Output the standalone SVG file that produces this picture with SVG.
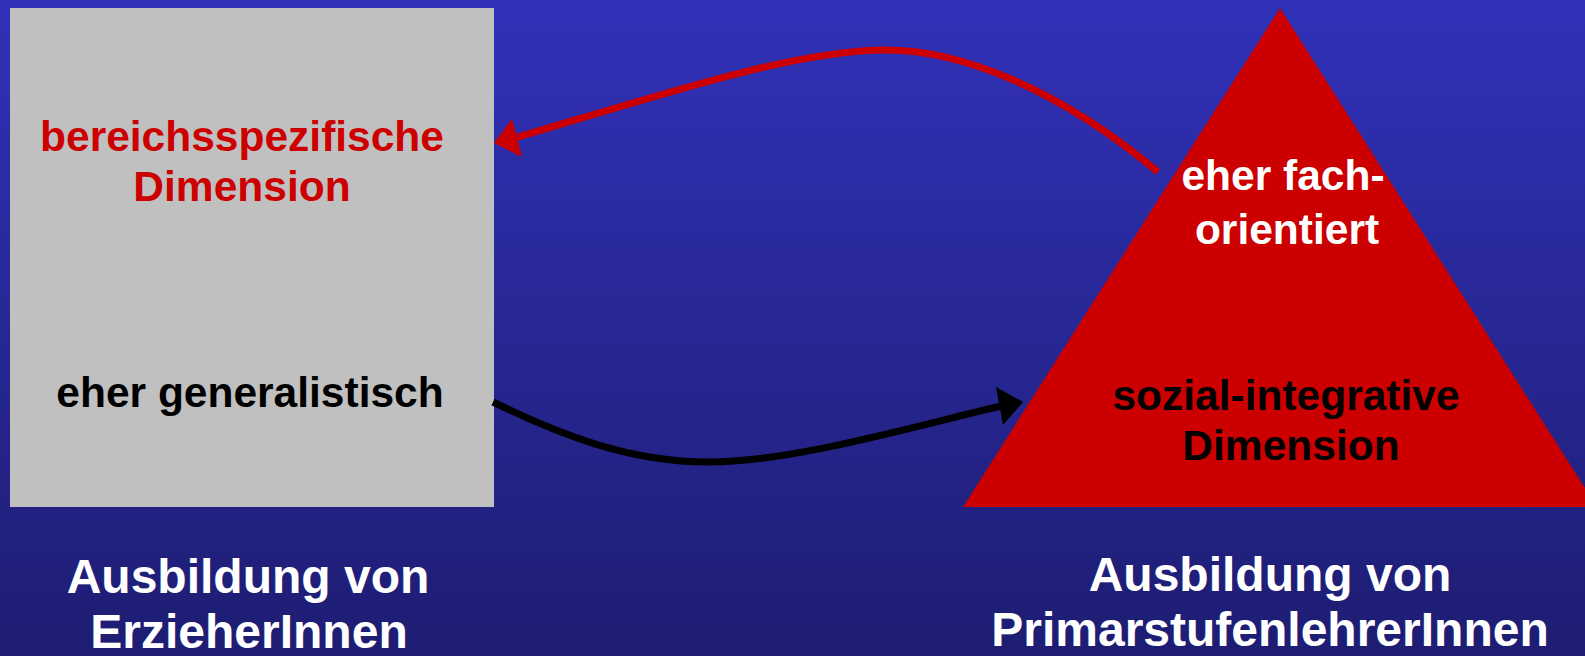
<svg xmlns="http://www.w3.org/2000/svg" width="1585" height="656" viewBox="0 0 1585 656">
<defs>
<linearGradient id="bg" x1="0" y1="0" x2="0" y2="1">
<stop offset="0" stop-color="#3131B9"/>
<stop offset="1" stop-color="#1D1D72"/>
</linearGradient>
<style>
text{font-family:"Liberation Sans",Arial,sans-serif;font-weight:bold;font-size:42.5px;text-anchor:middle}
.red{fill:#CC0000}.blk{fill:#000000}.wht{fill:#FFFFFF}
.big{font-size:48px}
.conn{fill:none;stroke-width:7}
</style>
</defs>
<rect x="0" y="0" width="1585" height="656" fill="url(#bg)"/>
<g id="box-erzieher">
<rect x="10" y="8" width="484" height="499" fill="#C0C0C0"/>
<text class="red" x="242" y="151">bereichsspezifische</text>
<text class="red" x="242" y="201">Dimension</text>
<text class="blk" x="250" y="407">eher generalistisch</text>
</g>
<g id="triangle-primar">
<polygon points="1280,8 963,507 1597,507" fill="#CC0000"/>
<text class="wht" x="1283" y="190">eher fach-</text>
<text class="wht" x="1287" y="244">orientiert</text>
<text class="blk" x="1286" y="410">sozial-integrative</text>
<text class="blk" x="1291" y="460">Dimension</text>
</g>
<g id="label-left">
<text class="wht big" x="248" y="593">Ausbildung von</text>
<text class="wht big" x="249" y="648">ErzieherInnen</text>
</g>
<g id="label-right">
<text class="wht big" x="1270" y="591">Ausbildung von</text>
<text class="wht big" x="1270" y="646">PrimarstufenlehrerInnen</text>
</g>
<g id="connectors">
<path class="conn" stroke="#CC0000" d="M1158,172 C1060,90 960,48 880,50 C790,52 660,95 515,138"/>
<polygon points="494,143 512,119 522,157" fill="#CC0000"/>
<path class="conn" stroke="#000000" d="M493,402 C560,435 630,462 708,462 C790,462 900,430 1001,406"/>
<polygon points="1023,402 996,387 1003,425" fill="#000000"/>
</g>
</svg>
